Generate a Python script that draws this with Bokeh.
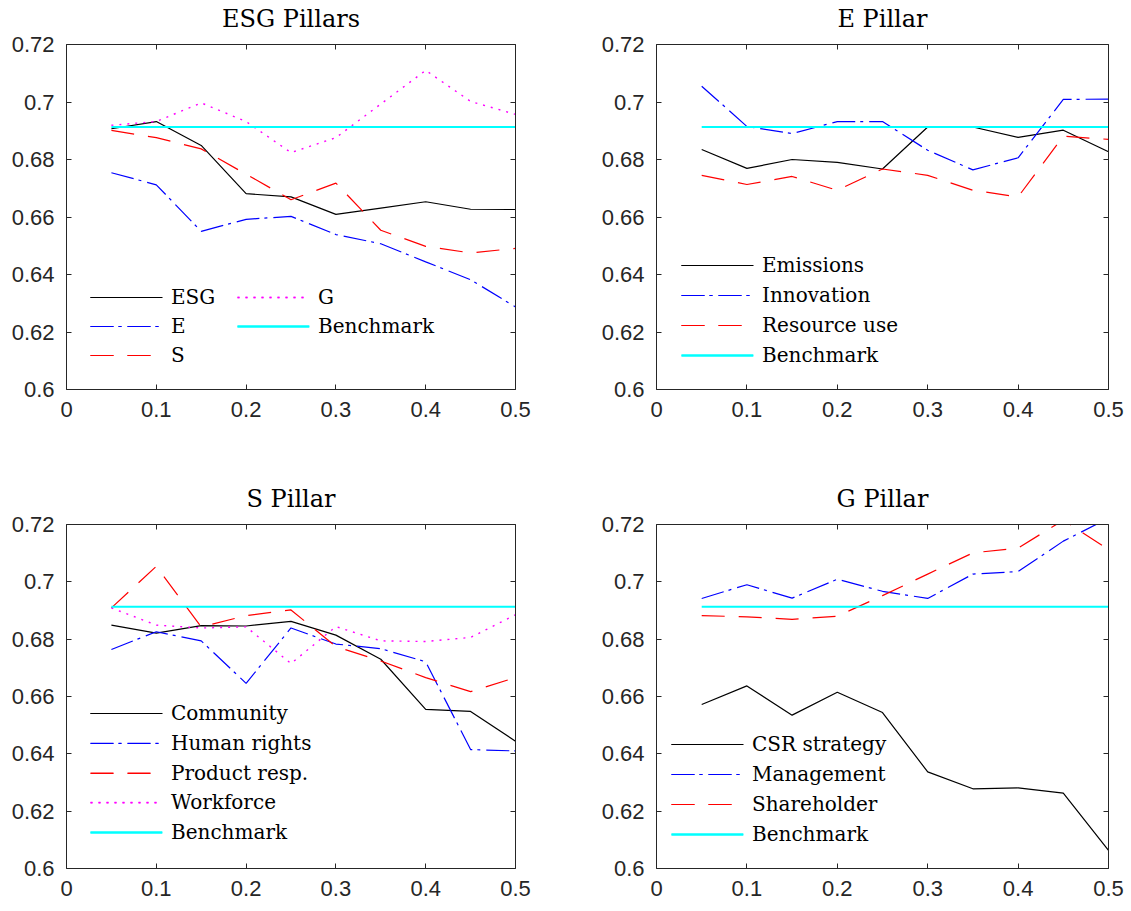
from bokeh.plotting import figure
from bokeh.layouts import column, row
from bokeh.models import (FixedTicker, LinearAxis, Legend, LegendItem, Range1d, Title,
                          CustomLabelingPolicy, Arrow)
from bokeh.embed import file_html
from bokeh.resources import INLINE

# ---------------- data ----------------
x = [0.05, 0.10, 0.15, 0.20, 0.25, 0.30, 0.35, 0.40, 0.45, 0.50]
benchmark = 0.6913

esg = [0.6907, 0.6932, 0.6849, 0.6681, 0.6670, 0.6609, 0.6631, 0.6653, 0.6627, 0.6626]
e_pillar = [0.6754, 0.6712, 0.6550, 0.6592, 0.6602, 0.6539, 0.6507, 0.6444, 0.6382, 0.6287]
s_pillar = [0.6901, 0.6876, 0.6837, 0.6749, 0.6660, 0.6718, 0.6554, 0.6498, 0.6475, 0.6491]
g_pillar = [0.6919, 0.6932, 0.6997, 0.6932, 0.6824, 0.6876, 0.6993, 0.7110, 0.7002, 0.6957]

emissions = [0.6835, 0.6769, 0.6800, 0.6790, 0.6767, 0.6913, 0.6913, 0.6877, 0.6902, 0.6827]
innovation = [0.7055, 0.6915, 0.6890, 0.6932, 0.6932, 0.6832, 0.6764, 0.6806, 0.7009, 0.7010]
resource_use = [0.6745, 0.6713, 0.6741, 0.6693, 0.6767, 0.6745, 0.6693, 0.6670, 0.6881, 0.6870]

community = [0.6849, 0.6821, 0.6847, 0.6846, 0.6862, 0.6814, 0.6730, 0.6555, 0.6548, 0.6444]
human_rights = [0.6764, 0.6826, 0.6794, 0.6646, 0.6839, 0.6783, 0.6767, 0.6721, 0.6415, 0.6410]
product_resp = [0.6909, 0.7054, 0.6843, 0.6882, 0.6902, 0.6774, 0.6724, 0.6666, 0.6617, 0.6666]
workforce = [0.6909, 0.6849, 0.6839, 0.6843, 0.6715, 0.6844, 0.6794, 0.6792, 0.6806, 0.6885]

csr_strategy = [0.6572, 0.6637, 0.6535, 0.6615, 0.6544, 0.6337, 0.6278, 0.6281, 0.6263, 0.6063]
management = [0.6942, 0.6990, 0.6943, 0.7009, 0.6967, 0.6942, 0.7027, 0.7036, 0.7142, 0.7222]
shareholder = [0.6882, 0.6878, 0.6869, 0.6880, 0.6952, 0.7027, 0.7101, 0.7118, 0.7215, 0.7113]

xticks = [0, 0.1, 0.2, 0.3, 0.4, 0.5]
xtick_labels = ["0", "0.1", "0.2", "0.3", "0.4", "0.5"]
yticks = [0.6, 0.62, 0.64, 0.66, 0.68, 0.7, 0.72]
ytick_labels = ["0.6", "0.62", "0.64", "0.66", "0.68", "0.7", "0.72"]

# ---------------- styles ----------------
AX = "#262626"
SERIF = "DejaVu Serif"
SANS = "Liberation Sans"
STY = {
    "solid_k": dict(line_color="#000000", line_width=1.2, line_dash="solid"),
    "dashdot_b": dict(line_color="#0000FF", line_width=1.2, line_dash="23 5 3 6"),
    "dash_r": dict(line_color="#FF0000", line_width=1.2, line_dash="23 14"),
    "dot_m": dict(line_color="#FF00FF", line_width=1.4, line_dash="2 6"),
    "bench": dict(line_color="#00FFFF", line_width=2.0, line_dash="solid"),
}
GLYPH_W = 72
ROW_H = 26

HIDE_CODE = """
for (const i of Array.from(indices)) indices.unset(i)
return indices
"""


def make_panel(title, fw, fh, bl, br, bt, bb):
    p = figure(frame_width=fw, frame_height=fh,
               min_border_left=bl, min_border_right=br,
               min_border_top=bt, min_border_bottom=bb,
               x_range=Range1d(0, 0.5), y_range=Range1d(0.6, 0.72),
               output_backend="svg", toolbar_location=None,
               x_axis_type=None, y_axis_type=None)
    p.grid.visible = False
    p.outline_line_color = None      # the four axes draw the box
    p.background_fill_color = "white"
    p.border_fill_color = "white"

    def axis(ticks, labels, show_labels):
        a = LinearAxis(ticker=FixedTicker(ticks=ticks))
        a.axis_line_color = AX
        a.major_tick_line_color = AX
        a.minor_tick_line_color = None
        a.major_tick_in = 5
        a.major_tick_out = 0
        if show_labels:
            a.major_label_overrides = {t: l for t, l in zip(ticks, labels)}
            a.major_label_text_font = SANS
            a.major_label_text_color = AX
            a.major_label_text_font_size = "22px"
            a.major_label_standoff = 12
        else:
            a.major_label_policy = CustomLabelingPolicy(code=HIDE_CODE)
            a.major_label_standoff = 0
        return a

    p.add_layout(axis(xticks, xtick_labels, True), "below")
    p.add_layout(axis(yticks, ytick_labels, True), "left")
    p.add_layout(axis(xticks, xtick_labels, False), "above")
    p.add_layout(axis(yticks, ytick_labels, False), "right")

    p.title = Title(text=title, align="center", text_font=SERIF,
                    text_font_size="24px", text_font_style="normal",
                    text_color="#000000", standoff=2)
    return p


def add_legend(p, rends, styles, names, x0, y_bottom, row_step=30):
    # one legend per entry, stacked from the bottom entry upwards
    n = len(names)
    keys = []
    for k, name in enumerate(names):
        y = y_bottom + (n - 1 - k) * row_step
        leg = Legend(items=[LegendItem(label=name, renderers=[rends[name]])],
                     location=(x0, y), padding=0, margin=0,
                     border_line_color=None, background_fill_color=None,
                     glyph_width=GLYPH_W, glyph_height=ROW_H, label_height=ROW_H,
                     label_standoff=9, spacing=0,
                     label_text_font=SERIF, label_text_font_size="20px",
                     label_text_color="#000000")
        p.add_layout(leg)
        # key line re-stroked over the legend sample, in the series' own style
        yc = y + ROW_H / 2
        keys.append(Arrow(end=None, start=None,
                          x_start=x0, y_start=yc, x_end=x0 + GLYPH_W, y_end=yc,
                          start_units="screen", end_units="screen",
                          **STY[styles[name]]))
    for a in keys:
        p.add_layout(a)


def plot_series(p, series):
    rends, styles = {}, {}
    for name, ys, sty in series:
        rends[name] = p.line(x, ys, **STY[sty])
        styles[name] = sty
    rends["Benchmark"] = p.line(x, [benchmark] * len(x), **STY["bench"])
    styles["Benchmark"] = "bench"
    return rends, styles


L1 = 66   # left border of left-column figures
T1 = 44   # top border of first-row figures

# ---- panel 1 ----
p1 = make_panel("ESG Pillars", 449, 345, L1, 44, T1, 71)
r, s = plot_series(p1, [("ESG", esg, "solid_k"), ("E", e_pillar, "dashdot_b"),
                        ("S", s_pillar, "dash_r"), ("G", g_pillar, "dot_m")])
add_legend(p1, r, s, ["ESG", "E", "S"], 24, 21, 29)
add_legend(p1, r, s, ["G", "Benchmark"], 171, 50, 29)

# ---- panel 2 ----
p2 = make_panel("E Pillar", 452, 345, 97, 14, T1, 71)
r, s = plot_series(p2, [("Emissions", emissions, "solid_k"), ("Innovation", innovation, "dashdot_b"),
                        ("Resource use", resource_use, "dash_r")])
add_legend(p2, r, s, ["Emissions", "Innovation", "Resource use", "Benchmark"], 25, 21, 30)

# ---- panel 3 ----
p3 = make_panel("S Pillar", 449, 344, L1, 44, 64, 37)
r, s = plot_series(p3, [("Community", community, "solid_k"), ("Human rights", human_rights, "dashdot_b"),
                        ("Product resp.", product_resp, "dash_r"), ("Workforce", workforce, "dot_m")])
add_legend(p3, r, s, ["Community", "Human rights", "Product resp.", "Workforce", "Benchmark"], 24, 23, 29.75)

# ---- panel 4 ----
p4 = make_panel("G Pillar", 452, 344, 97, 14, 64, 37)
r, s = plot_series(p4, [("CSR strategy", csr_strategy, "solid_k"), ("Management", management, "dashdot_b"),
                        ("Shareholder", shareholder, "dash_r")])
add_legend(p4, r, s, ["CSR strategy", "Management", "Shareholder", "Benchmark"], 15, 21, 30)

layout = column(row(p1, p2), row(p3, p4))

open("out.html", "w").write(file_html(layout, INLINE))
